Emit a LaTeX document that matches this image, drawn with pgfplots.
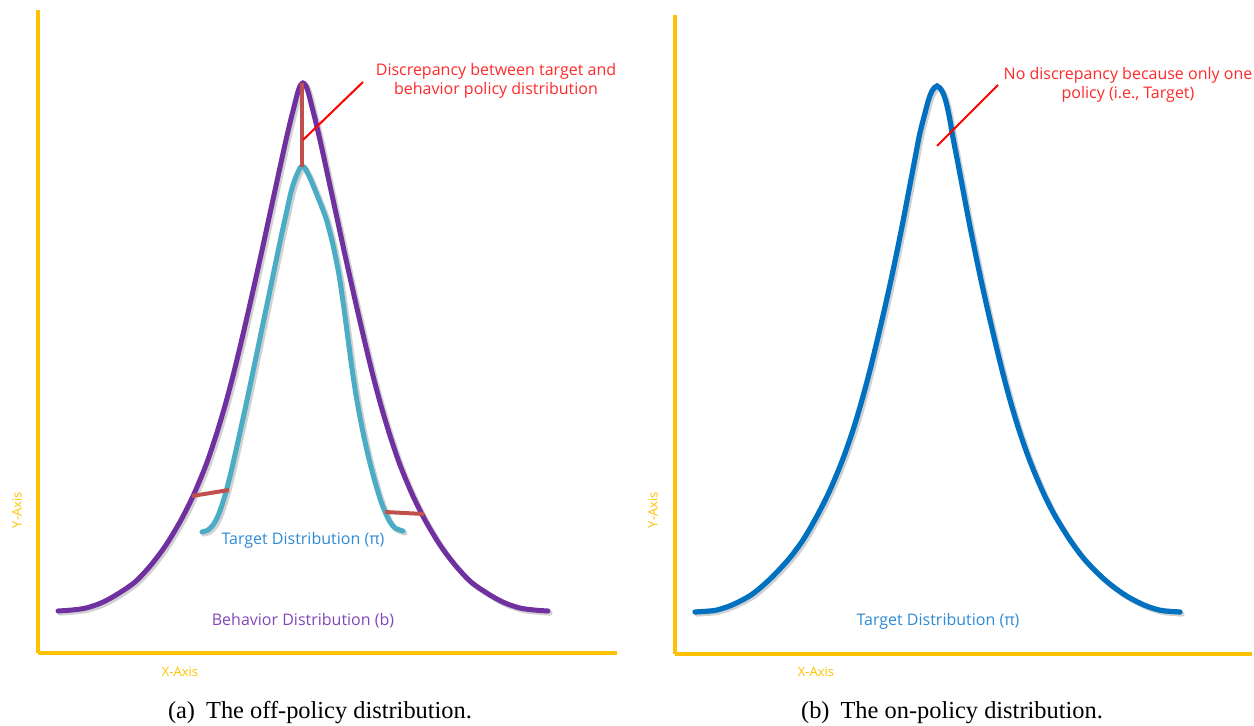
\documentclass[border=0pt]{standalone}
\usepackage{fontspec}
\setmainfont{Liberation Serif}
\newfontfamily\chartfont{Open Sans}
\usepackage{pgfplots}
\usepackage{pgfplotstable}
\pgfplotsset{compat=1.18}

\definecolor{axisyellow}{HTML}{FFC000}
\definecolor{behavior}{HTML}{7030A0}
\definecolor{behaviortxt}{HTML}{8246B8}
\definecolor{target}{HTML}{4BACC6}
\definecolor{targetb}{HTML}{0070C0}
\definecolor{targettxt}{HTML}{2F8AD4}
\definecolor{gap}{HTML}{C0504D}
\definecolor{note}{HTML}{FF2A2A}

\pgfplotstableread{
x y
58 611
72 610
86 608
101 603
116 595
135 582
151 565
166 545
181 520
193.5 495
206 465
216.2 435
225.2 405
233.2 375
240.5 345
247.5 315
254.3 285
261 255
267.5 225
274 195
280.5 165
286 140
290.7 120
294.5 105
297 95
299 88.5
300.8 84.8
303 83
305.2 84.8
307 88.5
309 95
311.5 105
315.3 120
320 140
325.5 165
332 195
338.5 225
345 255
351.7 285
358.5 315
365.5 345
372.8 375
380.8 405
389.8 435
400 465
412.5 495
425 520
440 545
455 565
471 582
490 595
505 603
520 608
534 610
548 611
}\behaviorA

\pgfplotstableread{
x y
202 532
208 530
213 525
217.5 517
222 505
226.5 490
231.5 470
237.2 445
243.8 415
250.2 385
256.5 355
262.7 325
269 295
275.2 265
281.5 235
287 210
291.5 190
295.5 178
298.5 171
300.3 167.5
302.3 166
304.5 167.5
306.5 171
310 178
315 190
321 205
326.5 220
333 245
339 275
343.5 305
347.5 335
351.5 365
356 395
361.5 425
368 455
374.5 480
380.5 500
385.5 513
390 522
395 528
403 531
}\targetA

\pgfplotstableread{
x y
695 612
706 611.3
717 610
732 605
751 595
769 580
788 560
803 540
817.5 515
830 490
842.5 460
853 430
862 400
870 370
877.3 340
884.3 310
891 280
897.3 250
903.3 220
909 190
914.7 160
919.5 135
924.5 115
928.5 100
931.5 92
934.5 87.6
937 86
939.5 87.6
942.5 92
945.5 100
949 115
952.5 135
957.3 160
963 190
968.7 220
974.7 250
981 280
987.7 310
994.7 340
1002 370
1010 400
1019 430
1029.5 460
1042 490
1054.5 515
1070 540
1085 560
1105 580
1125 595
1144 605
1159 610
1169 611.3
1180 612
}\targetB

\pgfplotsset{
  sketch/.style={
    x=0.5pt, y=0.5pt,
    axis x line=bottom, axis y line=left,
    axis line style={-, draw=axisyellow, line width=2pt},
    xtick=\empty, ytick=\empty,
    clip=false, anchor=south west,
  },
  shade/.style={draw=black, opacity=0.18, line width=2.6pt, smooth, line cap=round},
}

\begin{document}
\begin{tikzpicture}
\path[use as bounding box] (0,0) rectangle (627pt,362.5pt);

% (a) off-policy
\begin{axis}[sketch, at={(19pt,36pt)}, xmin=38, xmax=617, ymin=72, ymax=715]
\addplot[shade] table[x expr=\thisrow{x}+2, y expr=723-\thisrow{y}] {\behaviorA};
\addplot[shade] table[x expr=\thisrow{x}+2, y expr=723-\thisrow{y}] {\targetA};
\addplot[draw=behavior, line width=2.5pt, smooth, line cap=round] table[x=x, y expr=725-\thisrow{y}] {\behaviorA};
\addplot[draw=target, line width=2.5pt, smooth, line cap=round] table[x=x, y expr=725-\thisrow{y}] {\targetA};
% discrepancy markers
\addplot[draw=gap, line width=2pt] coordinates {(302,642) (302,558)};
\addplot[draw=gap, line width=2pt] coordinates {(192,229) (229,235)};
\addplot[draw=gap, line width=2pt] coordinates {(385,213) (424,211)};
\addplot[draw=red, line width=1pt] coordinates {(303,585) (363,643)};
\node[font=\chartfont\fontsize{8}{9.5}\selectfont, text=note, align=center] at (axis cs:496,644) {Discrepancy between target and\\behavior policy distribution};
\node[font=\chartfont\fontsize{8}{9}\selectfont, text=targettxt] at (axis cs:303,185) {Target Distribution (π)};
\node[font=\chartfont\fontsize{8}{9}\selectfont, text=behaviortxt] at (axis cs:303,104) {Behavior Distribution (b)};
\node[font=\chartfont\fontsize{6.5}{8}\selectfont, text=axisyellow] at (axis cs:180,53) {X-Axis};
\node[font=\chartfont\fontsize{6.5}{8}\selectfont, text=axisyellow, rotate=90] at (axis cs:17,215) {Y-Axis};
\node[font=\fontsize{12.2}{14}\selectfont] at (axis cs:320,12) {(a)\hspace{0.45em}The off-policy distribution.};
\end{axis}

% (b) on-policy
\begin{axis}[sketch, at={(337.5pt,35.5pt)}, xmin=675, xmax=1252, ymin=71, ymax=710]
\addplot[shade] table[x expr=\thisrow{x}+2, y expr=723-\thisrow{y}] {\targetB};
\addplot[draw=targetb, line width=2.6pt, smooth, line cap=round] table[x=x, y expr=725-\thisrow{y}] {\targetB};
\addplot[draw=red, line width=1pt] coordinates {(937,579) (998,640)};
\node[font=\chartfont\fontsize{8}{9.5}\selectfont, text=note, align=center] at (axis cs:1128,640) {No discrepancy because only one\\policy (i.e., Target)};
\node[font=\chartfont\fontsize{8}{9}\selectfont, text=targettxt] at (axis cs:938,104) {Target Distribution (π)};
\node[font=\chartfont\fontsize{6.5}{8}\selectfont, text=axisyellow] at (axis cs:816,53) {X-Axis};
\node[font=\chartfont\fontsize{6.5}{8}\selectfont, text=axisyellow, rotate=90] at (axis cs:653,215) {Y-Axis};
\node[font=\fontsize{12.2}{14}\selectfont] at (axis cs:952,12) {(b)\hspace{0.45em}The on-policy distribution.};
\end{axis}
\end{tikzpicture}
\end{document}
